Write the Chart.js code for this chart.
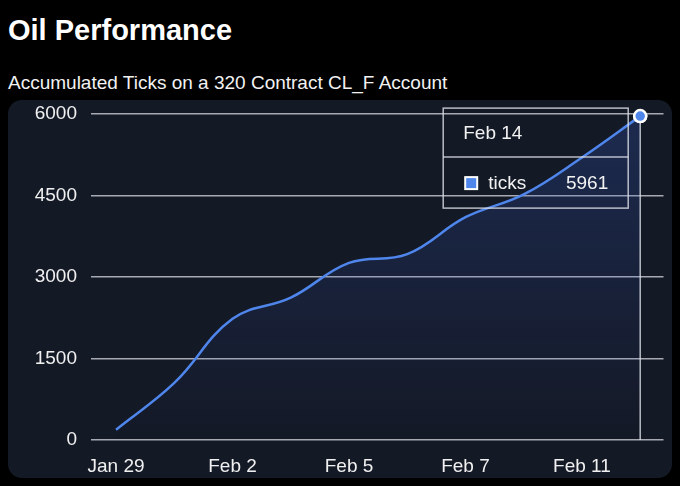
<!DOCTYPE html>
<html>
<head>
<meta charset="utf-8">
<script src="https://cdn.jsdelivr.net/npm/chart.js@4"></script>
<style>
  html, body { margin: 0; padding: 0; background: #000; }
  body { width: 680px; height: 486px; position: relative; overflow: hidden; font-family: "Liberation Sans", Arial, sans-serif; color: #fff; }
  h1 { position: absolute; left: 8px; top: 13px; margin: 0; font-size: 29px; font-weight: bold; line-height: 34px; }
  .sub { position: absolute; left: 8px; top: 72px; font-size: 19px; line-height: 22px; color: #f2f2f2; }
  .panel { position: absolute; left: 8px; top: 100px; width: 664px; height: 378px; background: #141926; border-radius: 14px; }
</style>
</head>
<body>
<h1>Oil Performance</h1>
<div class="sub">Accumulated Ticks on a 320 Contract CL_F Account</div>
<div class="panel"><canvas id="chart" width="664" height="378"></canvas></div>
<script>
const dates = ["Jan 29", "Jan 31", "Feb 2", "Feb 4", "Feb 5", "Feb 6", "Feb 7", "Feb 9", "Feb 11", "Feb 14"];
const ticks = [190, 1050, 2230, 2620, 3260, 3420, 4100, 4520, 5200, 5961];
const yTicks = [0, 1500, 3000, 4500, 6000];
const shownDates = [0, 2, 4, 6, 8];
const seriesName = "ticks";

const lineColor = "#4f86ec";
const last = ticks.length - 1;

// draws the hover crosshair + tooltip box on the last point
const hoverBox = {
  id: "hoverBox",
  afterDatasetsDraw(chart) {
    const pt = chart.getDatasetMeta(0).data[last];
    const { ctx, chartArea } = chart;
    ctx.save();
    ctx.strokeStyle = "rgba(225,228,235,0.8)";
    ctx.lineWidth = 1.5;
    ctx.beginPath();
    ctx.moveTo(pt.x, pt.y + 6);
    ctx.lineTo(pt.x, chartArea.bottom);
    ctx.stroke();

    const right = pt.x - 12, top = pt.y - 8, w = 185, h = 100;
    const left = right - w;
    ctx.strokeRect(left, top, w, h);
    ctx.beginPath();
    ctx.moveTo(left, top + 49);
    ctx.lineTo(right, top + 49);
    ctx.stroke();

    ctx.fillStyle = "#f2f2f2";
    ctx.font = "19px 'Liberation Sans', Arial, sans-serif";
    ctx.textBaseline = "middle";
    ctx.textAlign = "left";
    ctx.fillText(dates[last], left + 20, top + 26);
    ctx.fillText(seriesName, left + 45, top + 76);
    ctx.textAlign = "right";
    ctx.fillText(String(ticks[last]), right - 20, top + 76);

    ctx.fillStyle = lineColor;
    ctx.fillRect(left + 22, top + 69, 12, 12);
    ctx.strokeStyle = "#fff";
    ctx.lineWidth = 2;
    ctx.strokeRect(left + 22, top + 69, 12, 12);
    ctx.restore();

    // redraw the point on top
    pt.draw(ctx, chartArea);
  }
};

new Chart(document.getElementById("chart"), {
  type: "line",
  data: {
    datasets: [{
      label: seriesName,
      data: ticks.map((v, i) => ({ x: i, y: v })),
      borderColor: lineColor,
      borderWidth: 2.5,
      tension: 0.4,
      fill: true,
      backgroundColor: (c) => {
        const area = c.chart.chartArea;
        if (!area) return "rgba(60,100,200,0.2)";
        const g = c.chart.ctx.createLinearGradient(0, area.top, 0, area.bottom);
        g.addColorStop(0, "rgba(55,95,200,0.26)");
        g.addColorStop(1, "rgba(55,95,200,0.0)");
        return g;
      },
      pointRadius: (c) => (c.dataIndex === last ? 6 : 0),
      pointBackgroundColor: lineColor,
      pointBorderColor: "#fff",
      pointBorderWidth: 2.5
    }]
  },
  options: {
    responsive: false,
    animation: false,
    layout: { padding: { left: 0, right: 5, top: 14, bottom: 0 } },
    plugins: { legend: { display: false }, tooltip: { enabled: false } },
    scales: {
      x: {
        type: "linear",
        min: -0.43,
        max: last + 0.40,
        grid: { display: false },
        border: { display: false },
        afterBuildTicks: (s) => { s.ticks = shownDates.map((v) => ({ value: v })); },
        afterFit: (s) => { s.height = 38; s.paddingLeft = 0; s.paddingRight = 0; },
        ticks: {
          color: "#f0f0f0",
          font: { size: 19, family: "'Liberation Sans', Arial, sans-serif" },
          padding: 7,
          maxRotation: 0,
          callback: (v) => dates[v]
        }
      },
      y: {
        min: 0,
        max: 6000,
        afterBuildTicks: (s) => { s.ticks = yTicks.map((v) => ({ value: v })); },
        afterFit: (s) => { s.width = 83; s.paddingTop = 0; s.paddingBottom = 0; },
        grid: { color: "rgba(215,218,225,0.75)", lineWidth: 1.5, drawTicks: false },
        border: { display: false },
        ticks: {
          color: "#f0f0f0",
          font: { size: 19, family: "'Liberation Sans', Arial, sans-serif" },
          padding: 14,
          callback: (v) => String(v)
        }
      }
    }
  },
  plugins: [hoverBox]
});
</script>
</body>
</html>
